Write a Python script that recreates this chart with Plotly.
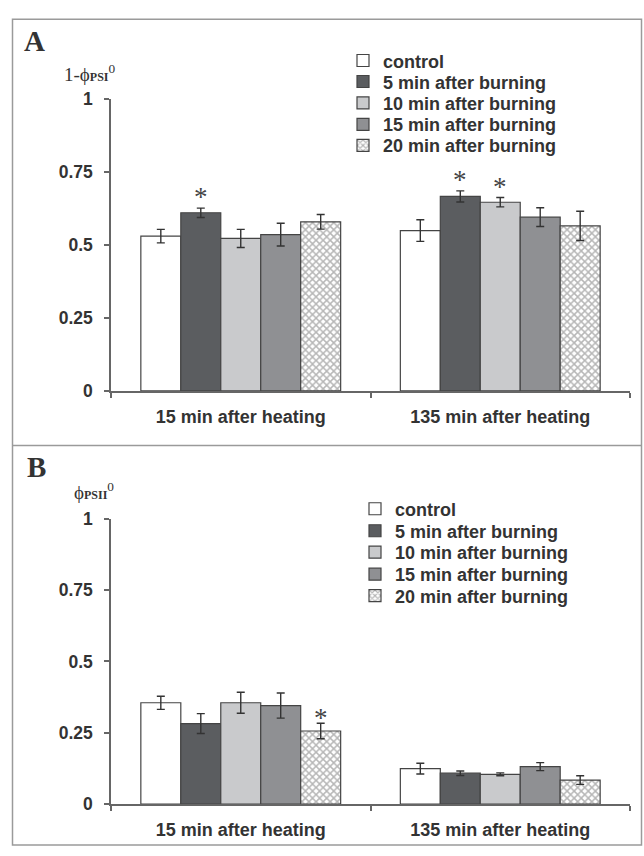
import plotly.graph_objects as go

# ---------------- data ----------------
groups = ["15 min after heating", "135 min after heating"]
series_names = ["control", "5 min after burning", "10 min after burning",
                "15 min after burning", "20 min after burning"]

# Panel A: 1 - phi_PSI^0  (per series: [15 min, 135 min])
psi1_values = [[0.530, 0.549],
               [0.610, 0.666],
               [0.522, 0.646],
               [0.535, 0.595],
               [0.579, 0.565]]
psi1_errors = [[0.023, 0.037],
               [0.016, 0.019],
               [0.031, 0.016],
               [0.039, 0.032],
               [0.025, 0.050]]
psi1_signif = [[0, 0], [1, 1], [0, 1], [0, 0], [0, 0]]

# Panel B: phi_PSII^0
psii_values = [[0.355, 0.124],
               [0.282, 0.108],
               [0.355, 0.104],
               [0.345, 0.131],
               [0.256, 0.084]]
psii_errors = [[0.023, 0.019],
               [0.035, 0.008],
               [0.037, 0.005],
               [0.044, 0.014],
               [0.027, 0.015]]
psii_signif = [[0, 0], [0, 0], [0, 0], [0, 0], [1, 0]]

y_tickvals = [0, 0.25, 0.5, 0.75, 1]
y_ticktext = ["0", "0.25", "0.5", "0.75", "1"]

# ---------------- styling ----------------
W, H = 644, 856
fill_colors = ["#ffffff", "#5b5d60", "#c9cacc", "#8f9093", "#ffffff"]
TXT = "#333333"
AX = "#666666"
SANS = "Liberation Sans, Arial, sans-serif"
SERIF = "Liberation Serif, Times New Roman, serif"
BARGAP = 0.23


def px_x(p):
    return p / W


def px_y(p):
    return 1 - p / H


fig = go.Figure()

panels = [
    dict(vals=psi1_values, errs=psi1_errors, sig=psi1_signif, xa="x", ya="y",
         leg_x=343, leg_rows=[52, 73.5, 95.5, 117.5, 139], first_leg=1, star_shift=11),
    dict(vals=psii_values, errs=psii_errors, sig=psii_signif, xa="x2", ya="y2",
         leg_x=355, leg_rows=[511, 533.5, 555.5, 578, 600], first_leg=6, star_shift=5),
]

layout_legends = {}
annotations = []
for p in panels:
    for j, name in enumerate(series_names):
        leg_idx = p["first_leg"] + j
        leg_key = "legend" if leg_idx == 1 else f"legend{leg_idx}"
        marker = dict(color=fill_colors[j], line=dict(color="#444444", width=1.2))
        if j == 4:
            marker["pattern"] = dict(shape="x", fgcolor="#6e6e6e", bgcolor="#ffffff",
                                     size=5, solidity=0.5, fillmode="overlay")
        fig.add_trace(go.Bar(
            x=groups, y=p["vals"][j], name=name, marker=marker,
            error_y=dict(type="data", array=p["errs"][j], color="#333333",
                         thickness=1.4, width=4),
            xaxis=p["xa"], yaxis=p["ya"], legend=leg_key, showlegend=True,
        ))
        layout_legends[leg_key] = dict(
            x=px_x(p["leg_x"]), y=px_y(p["leg_rows"][j]), xanchor="left", yanchor="middle",
            bgcolor="rgba(0,0,0,0)", borderwidth=0,
            font=dict(family=SANS, size=18, color=TXT, weight="bold"), itemclick=False,
        )
        # significance asterisks, placed above the error bar of each bar
        bar_w = (1 - BARGAP) / len(series_names)
        for i, g in enumerate(groups):
            if p["sig"][j][i]:
                xoff = -0.5 * (1 - BARGAP) + (j + 0.5) * bar_w
                annotations.append(dict(
                    x=i + xoff, y=p["vals"][j][i] + p["errs"][j][i],
                    xref=p["xa"], yref=p["ya"], text="*", showarrow=False,
                    xanchor="center", yanchor="middle", yshift=p["star_shift"],
                    font=dict(family=SERIF, size=27, color="#444444"),
                ))

# panel letters and y-axis titles
annotations += [
    dict(x=px_x(34), y=px_y(32), xref="paper", yref="paper", text="<b>A</b>",
         xanchor="center", yanchor="middle",
         showarrow=False, font=dict(family=SERIF, size=29, color=TXT)),
    dict(x=px_x(36), y=px_y(468), xref="paper", yref="paper", text="<b>B</b>",
         xanchor="center", yanchor="middle",
         showarrow=False, font=dict(family=SERIF, size=29, color=TXT)),
    dict(x=px_x(62), y=px_y(64), xref="paper", yref="paper", xanchor="left", yanchor="middle",
         text="1-ϕ<span style='font-size:12px'><b>PSI</b></span><sup>0</sup>",
         showarrow=False, font=dict(family=SERIF, size=19, color=TXT)),
    dict(x=px_x(72), y=px_y(492), xref="paper", yref="paper", xanchor="left", yanchor="middle",
         text="ϕ<span style='font-size:12px'><b>PSII</b></span><sup>0</sup>",
         showarrow=False, font=dict(family=SERIF, size=19, color=TXT)),
]

xaxis_common = dict(
    type="category", showline=True, linecolor=AX, linewidth=1.5,
    ticks="outside", tickson="boundaries", ticklen=5, tickcolor=AX, tickwidth=1.5,
    tickfont=dict(family=SANS, size=18, color=TXT, weight="bold"), ticklabelstandoff=9,
    showgrid=False, zeroline=False, fixedrange=True,
)
yaxis_common = dict(
    range=[0, 1], tickvals=y_tickvals, ticktext=y_ticktext, showline=True,
    linecolor=AX, linewidth=1.5, ticks="outside", ticklen=5, tickcolor=AX, tickwidth=1.5,
    tickfont=dict(family=SANS, size=17.5, color=TXT, weight="bold"), ticklabelstandoff=8,
    showgrid=False, zeroline=False,
)

xdom = [px_x(111), px_x(630)]
fig.update_layout(
    width=W, height=H, margin=dict(l=0, r=0, t=0, b=0),
    paper_bgcolor="#ffffff", plot_bgcolor="rgba(0,0,0,0)",
    barmode="group", bargap=BARGAP, bargroupgap=0,
    xaxis=dict(domain=xdom, anchor="y", **xaxis_common),
    yaxis=dict(domain=[px_y(390), px_y(91)], anchor="x", **yaxis_common),
    xaxis2=dict(domain=xdom, anchor="y2", **xaxis_common),
    yaxis2=dict(domain=[px_y(813), px_y(521)], anchor="x2", **yaxis_common),
    annotations=annotations,
    shapes=[
        dict(type="rect", xref="paper", yref="paper", x0=px_x(12.5), x1=px_x(641.5),
             y0=px_y(855), y1=px_y(9.5), line=dict(color="#9a9a9a", width=1.5)),
        dict(type="line", xref="paper", yref="paper", x0=px_x(12.5), x1=px_x(641.5),
             y0=px_y(446), y1=px_y(446), line=dict(color="#9a9a9a", width=1.5)),
    ],
    **layout_legends,
)

fig.write_html("out.html")
